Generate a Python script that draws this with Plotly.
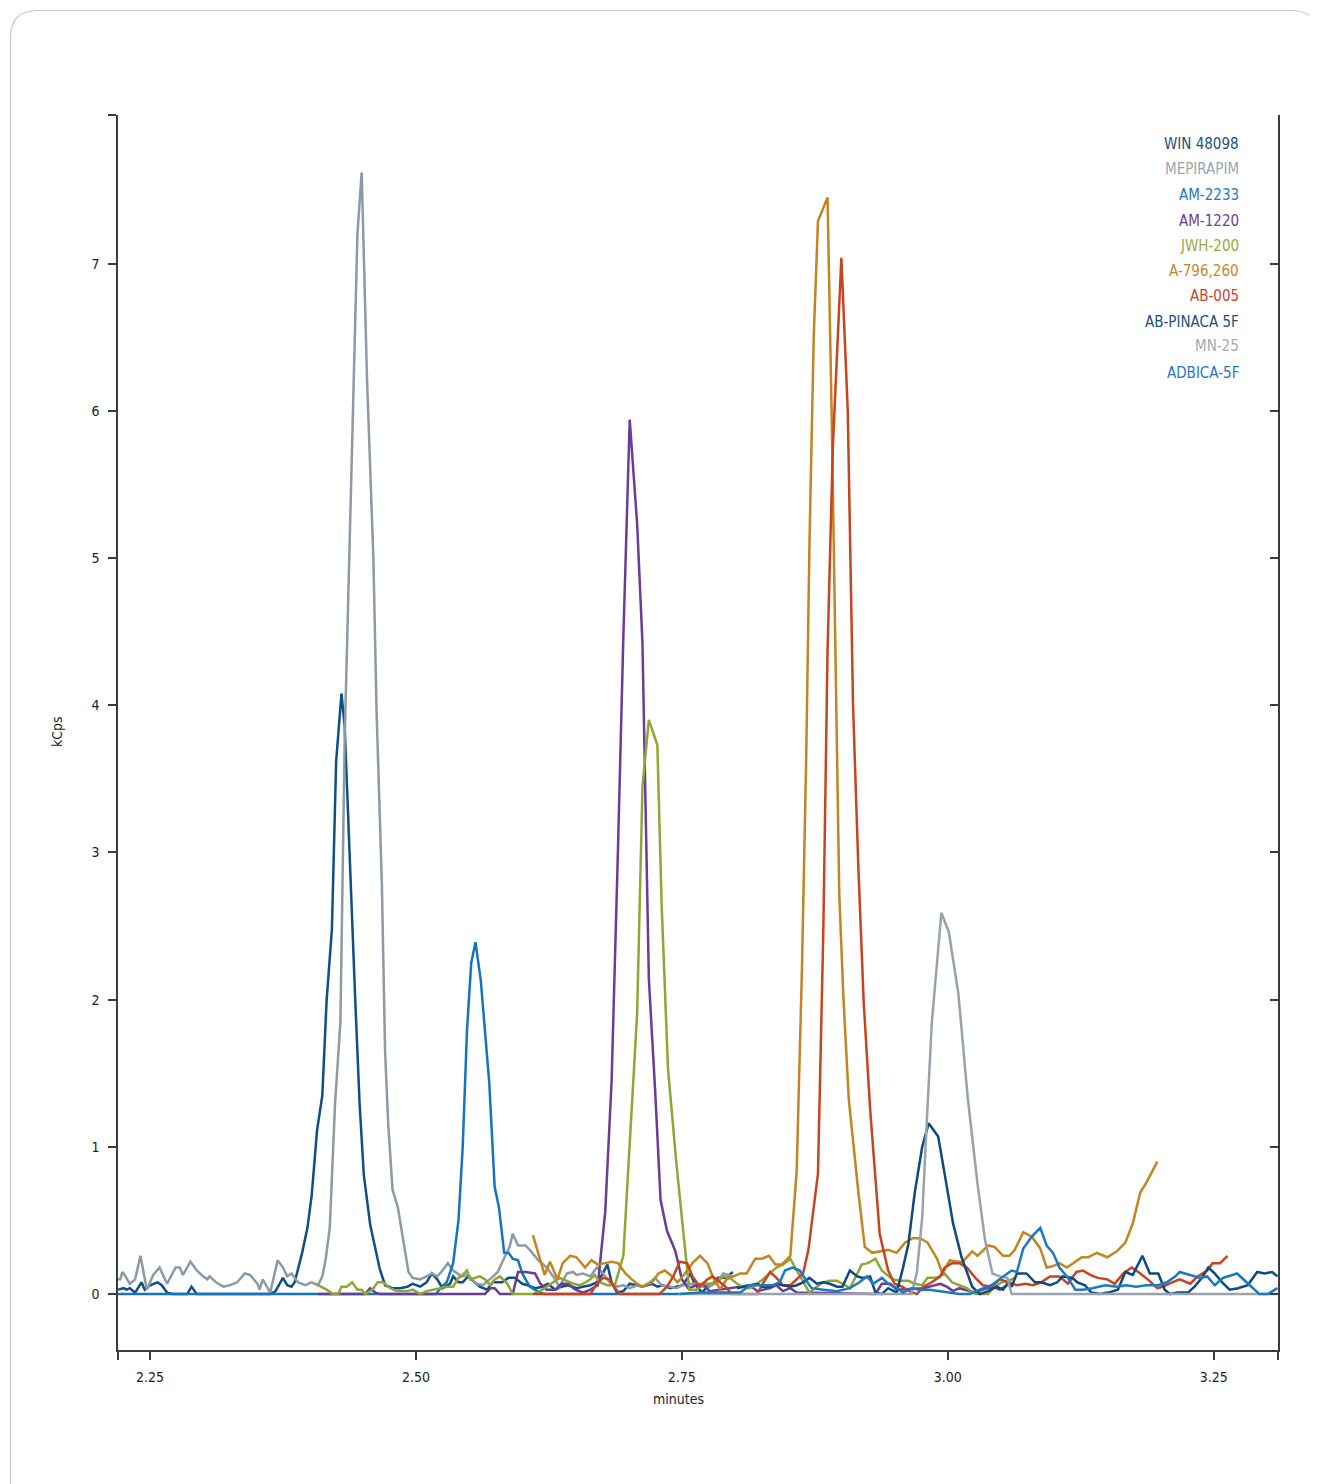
import plotly.graph_objects as go

# ---------------- data (minutes, kCps) ----------------
WIN_48098 = [(2.220,0.03),(2.225,0.04),(2.228,0.03),(2.231,0.04),(2.236,0.01),(2.242,0.08),(2.245,0.03),(2.250,0.06),(2.257,0.08),(2.261,0.06),(2.266,0.01),(2.271,0.00),(2.285,0.00),(2.289,0.05),(2.294,0.00),(2.363,0.00),(2.368,0.02),(2.372,0.07),(2.375,0.11),(2.379,0.06),(2.383,0.05),(2.386,0.08),(2.389,0.16),(2.393,0.28),(2.398,0.45),(2.402,0.67),(2.407,1.11),(2.412,1.35),(2.416,1.99),(2.421,2.48),(2.425,3.62),(2.430,4.08),(2.433,3.86),(2.438,2.88),(2.443,1.99),(2.447,1.30),(2.451,0.81),(2.457,0.47),(2.462,0.29),(2.466,0.17),(2.471,0.06),(2.478,0.04),(2.485,0.04),(2.492,0.05),(2.497,0.07),(2.504,0.05),(2.510,0.08),(2.515,0.14),(2.520,0.10),(2.525,0.04),(2.532,0.07),(2.535,0.12),(2.540,0.08),(2.544,0.08),(2.549,0.12),(2.554,0.09),(2.560,0.05),(2.567,0.03),(2.572,0.08),(2.581,0.08),(2.587,0.11),(2.593,0.11),(2.600,0.07),(2.605,0.06),(2.612,0.04),(2.619,0.05),(2.624,0.07),(2.631,0.03),(2.637,0.05),(2.643,0.06),(2.651,0.04),(2.657,0.05),(2.664,0.06),(2.670,0.08),(2.675,0.13),(2.680,0.20),(2.684,0.08),(2.689,0.01),(2.695,0.02),(2.701,0.07),(2.708,0.06),(2.713,0.05),(2.722,0.07),(2.727,0.05),(2.732,0.06),(2.739,0.04),(2.745,0.05),(2.751,0.06),(2.758,0.14),(2.762,0.07),(2.769,0.01),(2.774,0.05),(2.779,0.07),(2.784,0.11),(2.791,0.11),(2.798,0.15)]

MEPIRAPIM = [(2.220,0.10),(2.222,0.10),(2.224,0.15),(2.227,0.12),(2.231,0.07),(2.236,0.10),(2.241,0.26),(2.247,0.03),(2.253,0.13),(2.259,0.18),(2.266,0.07),(2.274,0.18),(2.278,0.18),(2.281,0.13),(2.288,0.22),(2.294,0.16),(2.300,0.12),(2.304,0.10),(2.306,0.12),(2.312,0.08),(2.319,0.05),(2.325,0.06),(2.332,0.08),(2.339,0.14),(2.344,0.13),(2.351,0.07),(2.353,0.03),(2.356,0.10),(2.363,0.01),(2.370,0.23),(2.375,0.18),(2.379,0.12),(2.383,0.14),(2.389,0.08),(2.396,0.06),(2.402,0.08),(2.408,0.06),(2.412,0.12),(2.415,0.23),(2.419,0.45),(2.424,1.30),(2.429,1.85),(2.433,3.76),(2.437,4.94),(2.441,6.23),(2.445,7.20),(2.449,7.62),(2.454,6.22),(2.460,5.00),(2.463,3.96),(2.468,2.78),(2.471,1.65),(2.474,1.15),(2.478,0.71),(2.483,0.59),(2.488,0.37),(2.493,0.15),(2.497,0.11),(2.504,0.10),(2.510,0.12),(2.515,0.14),(2.520,0.12),(2.525,0.16),(2.530,0.21),(2.535,0.16),(2.543,0.12),(2.549,0.13),(2.557,0.07),(2.563,0.06),(2.571,0.11),(2.577,0.15),(2.582,0.23),(2.588,0.32),(2.591,0.41),(2.596,0.33),(2.603,0.33),(2.607,0.30),(2.615,0.23),(2.623,0.18),(2.629,0.12),(2.635,0.05),(2.642,0.14),(2.648,0.15),(2.651,0.13),(2.657,0.14),(2.664,0.12),(2.670,0.18),(2.676,0.14),(2.682,0.08),(2.689,0.05),(2.695,0.06),(2.701,0.04),(2.708,0.06),(2.713,0.05),(2.720,0.08),(2.725,0.11),(2.731,0.06),(2.739,0.05),(2.745,0.04),(2.751,0.06),(2.758,0.07),(2.764,0.07),(2.770,0.05),(2.776,0.05),(2.783,0.08),(2.789,0.14),(2.793,0.13),(2.798,0.12)]

AM_2233 = [(2.220,0.00),(2.519,0.00),(2.523,0.04),(2.529,0.08),(2.535,0.21),(2.540,0.50),(2.544,1.00),(2.548,1.79),(2.552,2.25),(2.556,2.39),(2.561,2.13),(2.565,1.75),(2.569,1.43),(2.574,0.73),(2.578,0.59),(2.583,0.28),(2.587,0.28),(2.591,0.24),(2.596,0.23),(2.600,0.14),(2.603,0.10),(2.607,0.05),(2.614,0.02),(2.621,0.00),(2.748,0.00)]

AM_1220 = [(2.408,0.00),(2.452,0.00),(2.457,0.04),(2.462,0.01),(2.466,0.00),(2.565,0.00),(2.570,0.04),(2.574,0.04),(2.579,0.00),(2.591,0.00),(2.596,0.15),(2.603,0.15),(2.612,0.14),(2.617,0.07),(2.623,0.03),(2.631,0.03),(2.637,0.07),(2.643,0.07),(2.650,0.03),(2.657,0.01),(2.664,0.03),(2.671,0.06),(2.678,0.56),(2.684,1.45),(2.690,3.03),(2.695,4.46),(2.701,5.94),(2.708,5.23),(2.713,4.42),(2.716,3.30),(2.719,2.14),(2.725,1.37),(2.730,0.64),(2.736,0.43),(2.744,0.29),(2.750,0.10),(2.756,0.04),(2.764,0.06),(2.770,0.07),(2.776,0.02),(2.805,0.05),(2.814,0.06),(2.821,0.02),(2.833,0.04),(2.839,0.06),(2.845,0.02),(2.852,0.04),(2.858,0.01),(2.932,0.00),(2.938,0.07),(2.946,0.07),(2.952,0.03),(2.977,0.04),(2.993,0.07),(2.999,0.05),(3.005,0.02),(3.011,0.04),(3.017,0.03),(3.026,0.01),(3.033,0.03),(3.042,0.05),(3.049,0.03),(3.056,0.06)]

JWH_200 = [(2.408,0.06),(2.416,0.03),(2.422,0.00),(2.427,0.00),(2.430,0.05),(2.435,0.05),(2.440,0.08),(2.445,0.03),(2.449,0.03),(2.452,0.00),(2.459,0.03),(2.464,0.08),(2.469,0.08),(2.476,0.04),(2.482,0.02),(2.492,0.02),(2.497,0.03),(2.504,0.00),(2.510,0.02),(2.516,0.03),(2.523,0.04),(2.529,0.05),(2.535,0.05),(2.540,0.11),(2.544,0.13),(2.548,0.16),(2.551,0.10),(2.556,0.11),(2.560,0.12),(2.565,0.10),(2.570,0.06),(2.574,0.10),(2.579,0.12),(2.586,0.07),(2.591,0.00),(2.610,0.00),(2.617,0.02),(2.623,0.05),(2.629,0.08),(2.635,0.11),(2.642,0.09),(2.648,0.07),(2.654,0.06),(2.657,0.07),(2.664,0.10),(2.668,0.13),(2.673,0.08),(2.680,0.06),(2.687,0.06),(2.695,0.26),(2.701,1.02),(2.708,1.91),(2.713,3.45),(2.719,3.90),(2.727,3.73),(2.731,2.65),(2.737,1.53),(2.745,0.88),(2.751,0.45),(2.757,0.03),(2.764,0.03),(2.770,0.07),(2.776,0.07),(2.783,0.08),(2.789,0.12),(2.795,0.11),(2.802,0.07),(2.807,0.05),(2.814,0.04),(2.821,0.07),(2.826,0.10),(2.833,0.14),(2.839,0.18),(2.845,0.20),(2.852,0.24),(2.858,0.16),(2.864,0.08),(2.870,0.01),(2.877,0.05),(2.883,0.08),(2.889,0.09),(2.896,0.09),(2.901,0.07),(2.908,0.04),(2.915,0.14),(2.919,0.20),(2.925,0.21),(2.932,0.24),(2.938,0.16),(2.943,0.13),(2.948,0.10),(2.955,0.09),(2.963,0.09),(2.969,0.07),(2.976,0.06),(2.981,0.11),(2.990,0.11),(2.997,0.14),(3.004,0.08),(3.011,0.06),(3.018,0.04),(3.026,0.00),(3.038,0.00),(3.044,0.05),(3.051,0.08),(3.057,0.09),(3.063,0.11)]

A_796_260 = [(2.610,0.40),(2.621,0.13),(2.626,0.22),(2.633,0.10),(2.638,0.21),(2.645,0.26),(2.651,0.25),(2.659,0.18),(2.665,0.23),(2.671,0.20),(2.678,0.21),(2.684,0.22),(2.690,0.21),(2.697,0.14),(2.703,0.10),(2.708,0.07),(2.713,0.05),(2.722,0.08),(2.728,0.14),(2.734,0.16),(2.741,0.12),(2.746,0.08),(2.753,0.14),(2.760,0.21),(2.767,0.26),(2.774,0.21),(2.779,0.12),(2.786,0.03),(2.792,0.10),(2.798,0.12),(2.805,0.14),(2.811,0.14),(2.819,0.24),(2.825,0.24),(2.832,0.26),(2.838,0.20),(2.844,0.20),(2.852,0.26),(2.858,0.84),(2.863,2.23),(2.867,3.67),(2.870,5.10),(2.874,6.50),(2.878,7.29),(2.887,7.45),(2.891,5.92),(2.894,4.53),(2.898,2.72),(2.902,2.00),(2.907,1.32),(2.916,0.69),(2.922,0.32),(2.929,0.28),(2.936,0.29),(2.944,0.30),(2.952,0.28),(2.960,0.35),(2.967,0.38),(2.974,0.38),(2.981,0.35),(2.990,0.24),(2.995,0.14),(3.002,0.23),(3.009,0.22),(3.014,0.22),(3.023,0.29),(3.028,0.26),(3.038,0.33),(3.044,0.32),(3.052,0.26),(3.058,0.26),(3.063,0.30),(3.071,0.42),(3.079,0.39),(3.087,0.31),(3.093,0.18),(3.099,0.19),(3.105,0.21),(3.112,0.18),(3.120,0.22),(3.126,0.25),(3.132,0.25),(3.140,0.28),(3.150,0.25),(3.159,0.29),(3.167,0.35),(3.174,0.48),(3.181,0.69),(3.187,0.76),(3.197,0.90)]

AB_005 = [(2.610,0.00),(2.664,0.00),(2.670,0.07),(2.676,0.11),(2.682,0.10),(2.687,0.04),(2.692,0.00),(2.729,0.00),(2.736,0.05),(2.742,0.12),(2.748,0.22),(2.755,0.21),(2.760,0.12),(2.767,0.05),(2.774,0.10),(2.779,0.12),(2.786,0.08),(2.791,0.05),(2.797,0.00),(2.821,0.00),(2.826,0.07),(2.833,0.15),(2.839,0.11),(2.845,0.06),(2.852,0.06),(2.858,0.10),(2.864,0.14),(2.869,0.30),(2.878,0.82),(2.883,2.46),(2.887,4.37),(2.892,5.76),(2.900,7.04),(2.906,6.00),(2.911,3.99),(2.916,2.89),(2.921,1.98),(2.927,1.26),(2.932,0.79),(2.936,0.41),(2.944,0.16),(2.950,0.07),(2.957,0.05),(2.964,0.02),(2.971,0.00),(2.977,0.05),(2.985,0.08),(2.993,0.12),(2.997,0.18),(3.004,0.21),(3.011,0.21),(3.018,0.18),(3.026,0.11),(3.033,0.06),(3.041,0.05),(3.049,0.10),(3.057,0.08),(3.065,0.06),(3.073,0.07),(3.080,0.06),(3.088,0.08),(3.096,0.12),(3.105,0.12),(3.113,0.07),(3.121,0.15),(3.127,0.16),(3.134,0.13),(3.141,0.11),(3.150,0.10),(3.157,0.07),(3.165,0.14),(3.173,0.18),(3.181,0.14),(3.188,0.10),(3.197,0.04),(3.202,0.05),(3.211,0.08),(3.218,0.10),(3.228,0.07),(3.235,0.12),(3.244,0.16),(3.249,0.21),(3.256,0.21),(3.263,0.26)]

AB_PINACA_5F = [(2.802,0.04),(2.807,0.05),(2.814,0.06),(2.821,0.07),(2.826,0.05),(2.833,0.05),(2.839,0.07),(2.845,0.06),(2.852,0.05),(2.858,0.06),(2.864,0.08),(2.870,0.11),(2.877,0.07),(2.883,0.08),(2.889,0.07),(2.896,0.05),(2.901,0.05),(2.908,0.16),(2.915,0.12),(2.920,0.11),(2.927,0.12),(2.932,0.01),(2.938,0.00),(2.944,0.04),(2.952,0.01),(2.958,0.18),(2.963,0.34),(2.969,0.69),(2.976,1.00),(2.982,1.16),(2.991,1.07),(2.997,0.82),(3.005,0.48),(3.013,0.25),(3.023,0.05),(3.030,0.00),(3.038,0.02),(3.046,0.05),(3.052,0.03),(3.057,0.08),(3.060,0.05),(3.065,0.14),(3.074,0.14),(3.082,0.08),(3.088,0.08),(3.096,0.06),(3.103,0.08),(3.108,0.12),(3.117,0.11),(3.122,0.08),(3.129,0.06),(3.135,0.01),(3.143,0.00),(3.151,0.01),(3.160,0.03),(3.167,0.15),(3.174,0.13),(3.183,0.26),(3.190,0.14),(3.198,0.14),(3.204,0.03),(3.209,0.00),(3.216,0.01),(3.226,0.01),(3.232,0.05),(3.239,0.11),(3.245,0.18),(3.251,0.14),(3.258,0.08),(3.265,0.03),(3.273,0.04),(3.282,0.06),(3.291,0.15),(3.298,0.14),(3.305,0.15),(3.310,0.12)]

MN_25 = [(2.748,0.00),(2.966,0.00),(2.971,0.15),(2.976,0.52),(2.980,1.13),(2.985,1.84),(2.994,2.59),(3.001,2.46),(3.010,2.04),(3.019,1.32),(3.028,0.75),(3.035,0.37),(3.042,0.14),(3.049,0.12),(3.056,0.11),(3.060,0.00),(3.310,0.00)]

ADBICA_5F = [(2.748,0.00),(2.767,0.01),(2.805,0.01),(2.814,0.06),(2.826,0.06),(2.836,0.06),(2.842,0.08),(2.847,0.16),(2.854,0.18),(2.861,0.16),(2.868,0.08),(2.872,0.04),(2.883,0.03),(2.896,0.02),(2.908,0.04),(2.917,0.08),(2.924,0.12),(2.930,0.07),(2.938,0.11),(2.944,0.07),(2.952,0.04),(2.958,0.01),(2.966,0.04),(2.974,0.03),(2.983,0.03),(2.993,0.02),(3.002,0.01),(3.011,0.00),(3.021,0.00),(3.030,0.03),(3.041,0.06),(3.049,0.10),(3.056,0.14),(3.060,0.16),(3.065,0.15),(3.071,0.31),(3.079,0.39),(3.087,0.45),(3.093,0.33),(3.099,0.28),(3.105,0.18),(3.112,0.12),(3.120,0.03),(3.127,0.03),(3.136,0.04),(3.148,0.06),(3.159,0.05),(3.168,0.06),(3.177,0.05),(3.187,0.06),(3.198,0.06),(3.206,0.08),(3.214,0.12),(3.218,0.15),(3.228,0.13),(3.237,0.11),(3.244,0.12),(3.251,0.06),(3.259,0.11),(3.272,0.14),(3.284,0.06),(3.293,0.00),(3.301,0.00),(3.310,0.04)]

SERIES_NAMES = ["WIN 48098", "MEPIRAPIM", "AM-2233", "AM-1220", "JWH-200",
                "A-796,260", "AB-005", "AB-PINACA 5F", "MN-25", "ADBICA-5F"]
SERIES_DATA = [WIN_48098, MEPIRAPIM, AM_2233, AM_1220, JWH_200,
               A_796_260, AB_005, AB_PINACA_5F, MN_25, ADBICA_5F]
LINE_COLORS = ["#0e4f86", "#8b9aa4", "#1475be", "#6a3b97", "#8fa634",
               "#c4841f", "#c8431f", "#0c4a80", "#97a3ab", "#1a79c3"]
LABEL_COLORS = ["#1d4f80", "#9aa5ad", "#1f78c2", "#6b3d98", "#93aa3c",
                "#c4862a", "#c8452a", "#1d4f80", "#a0a9b0", "#1f78c2"]

X_TICKS = [2.25, 2.50, 2.75, 3.00, 3.25]
X_TICK_TEXT = ["2.25", "2.50", "2.75", "3.00", "3.25"]
Y_TICKS = [0, 1, 2, 3, 4, 5, 6, 7]
X_RANGE = [2.2199, 3.3105]
Y_RANGE = [-0.38, 8.01]

FONT = "Liberation Sans Narrow, DejaVu Sans Condensed, Arial Narrow, sans-serif"
AXIS_COLOR = "#3c3c3c"

# ---------------- figure ----------------
# page offset: the HTML body has an 8px margin
OFF = 8
PAGE_W, PAGE_H = 1317, 1484
W, H = PAGE_W - OFF, PAGE_H - OFF
# plot area in page pixels: x 118..1278, y 115..1350
ML, MT = 118 - OFF, 115 - OFF
MR, MB = W - (1278 - OFF), H - (1350 - OFF)
PW, PH = W - ML - MR, H - MT - MB

def px_x(p):  # page pixel -> paper
    return (p - OFF - ML) / PW

def px_y(p):
    return (H - MB - (p - OFF)) / PH

fig = go.Figure()
for name, data, col in zip(SERIES_NAMES, SERIES_DATA, LINE_COLORS):
    fig.add_trace(go.Scatter(
        x=[p[0] for p in data], y=[p[1] for p in data],
        mode="lines", name=name,
        line=dict(color=col, width=2.5),
        showlegend=False, hoverinfo="x+y+name",
    ))
# dummy trace for right mirrored axis
fig.add_trace(go.Scatter(x=[X_RANGE[0]], y=[0], yaxis="y2", mode="lines",
                         showlegend=False, hoverinfo="skip",
                         line=dict(color="rgba(0,0,0,0)")))

tick_font = dict(family=FONT, size=14, color="#222222")
fig.update_layout(
    width=W, height=H,
    margin=dict(l=ML, r=MR, t=MT, b=MB),
    paper_bgcolor="white", plot_bgcolor="white",
    font=dict(family=FONT, color="#222222"),
    xaxis=dict(range=X_RANGE, tickvals=X_TICKS + [X_RANGE[0], X_RANGE[1]],
               ticktext=X_TICK_TEXT + ["", ""],
               ticks="outside", ticklen=8, tickwidth=1.5, tickcolor=AXIS_COLOR,
               showline=True, linecolor=AXIS_COLOR, linewidth=1.5,
               showgrid=False, zeroline=False, tickfont=tick_font,
               ticklabelstandoff=5),
    yaxis=dict(range=Y_RANGE, tickvals=Y_TICKS + [Y_RANGE[1]],
               ticktext=[str(v) for v in Y_TICKS] + [""],
               ticks="outside", ticklen=8, tickwidth=1.5, tickcolor=AXIS_COLOR,
               showline=True, linecolor=AXIS_COLOR, linewidth=1.5,
               showgrid=False, zeroline=False, tickfont=tick_font, ticklabelstandoff=6),
    yaxis2=dict(range=Y_RANGE, overlaying="y", side="right",
                tickvals=Y_TICKS + [Y_RANGE[1]], showticklabels=False,
                ticks="inside", ticklen=8, tickwidth=1.5, tickcolor=AXIS_COLOR,
                showline=True, linecolor=AXIS_COLOR, linewidth=1.5,
                showgrid=False, zeroline=False),
)

annotations = [
    dict(text="kCps", xref="paper", yref="paper", x=px_x(57), y=px_y(732),
         textangle=-90, showarrow=False, font=dict(family=FONT, size=14, color="#222222"),
         xanchor="center", yanchor="middle"),
    dict(text="minutes", xref="paper", yref="paper", x=px_x(678), y=px_y(1399),
         showarrow=False, font=dict(family=FONT, size=14, color="#222222"),
         xanchor="center", yanchor="middle"),
]
legend_py = [144, 169, 195, 221, 246, 271, 296, 322, 346, 373]
for name, col, py in zip(SERIES_NAMES, LABEL_COLORS, legend_py):
    annotations.append(dict(text=name, xref="paper", yref="paper",
                            x=px_x(1241), y=px_y(py), xanchor="right", yanchor="middle",
                            showarrow=False, font=dict(family=FONT, size=15, color=col)))
fig.update_layout(annotations=annotations)

# rounded card outline (page pixels)
r = 27
L, T, R, B = 10.5, 10.5, 1318, 1490
path = (f"M {px_x(L)},{px_y(B)} L {px_x(L)},{px_y(T + r)} "
        f"Q {px_x(L)},{px_y(T)} {px_x(L + r)},{px_y(T)} "
        f"L {px_x(R - r)},{px_y(T)} Q {px_x(R)},{px_y(T)} {px_x(R)},{px_y(T + r)} "
        f"L {px_x(R)},{px_y(B)}")
fig.add_shape(type="path", path=path, xref="paper", yref="paper",
              line=dict(color="#c9c4e8", width=1.2), layer="below")

fig.write_html("out.html")
